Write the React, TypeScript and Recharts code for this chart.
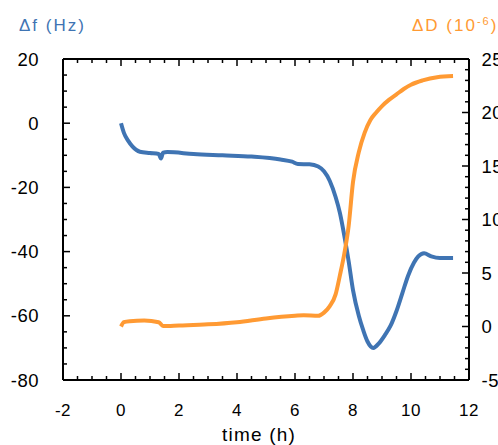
import React from 'react';
import { LineChart, Line, XAxis, YAxis } from 'recharts';

// Δf (Hz) series, left axis
const fTime = [0, 0.1, 0.25, 0.4, 0.65, 1.0, 1.3, 1.38, 1.45, 1.6, 2.5, 3.5, 4.5, 5.5, 5.9, 6.1, 6.5, 6.8, 7.0, 7.2, 7.4, 7.55, 7.7, 7.85, 8.0, 8.2, 8.35, 8.5, 8.7, 8.9, 9.1, 9.3, 9.5, 9.7, 9.9, 10.1, 10.25, 10.45, 10.7, 11.0, 11.45];
const fValues = [0, -3, -5.5, -7.3, -8.9, -9.3, -9.6, -11, -9.2, -9.0, -9.6, -10, -10.4, -11.3, -12, -12.7, -12.8, -13.5, -15, -18, -23, -28, -35, -43, -52, -60, -64.4, -68, -70, -68.5, -66, -63, -58.5, -53, -47.5, -43.5, -41.5, -40.5, -41.5, -42, -42];

// ΔD (1e-6) series, right axis
const dTime = [0, 0.1, 0.3, 0.8, 1.3, 1.45, 2.0, 3.0, 4.0, 5.0, 6.0, 6.3, 6.8, 7.0, 7.2, 7.4, 7.55, 7.7, 7.85, 8.0, 8.2, 8.4, 8.6, 8.8, 9.0, 9.25, 9.5, 9.75, 10.0, 10.4, 10.9, 11.45];
const dValues = [0, 0.4, 0.5, 0.55, 0.4, 0.05, 0.1, 0.2, 0.4, 0.75, 1.0, 1.05, 1.0, 1.3, 1.9, 3.0, 4.8, 6.8, 9.4, 13.5, 16.3, 18.1, 19.3, 20.0, 20.6, 21.2, 21.7, 22.2, 22.6, 23.0, 23.3, 23.4];

const xMajor = [-2, 0, 2, 4, 6, 8, 10, 12];
const fMajor = [20, 0, -20, -40, -60, -80];
const dMajor = [-5, 0, 5, 10, 15, 20, 25];

const range = (a: number, b: number, s: number) => {
  const out: number[] = [];
  for (let v = a; v <= b + 1e-9; v += s) out.push(Math.round(v * 100) / 100);
  return out;
};
const xTicks = range(-2, 12, 0.5);
const fTicks = range(-80, 20, 5);
const dTicks = range(-5, 25, 1);

const fData = fTime.map((t, i) => ({ t, f: fValues[i] }));
const dData = dTime.map((t, i) => ({ t, d: dValues[i] }));

const BLUE = '#3f74b3';
const ORANGE = '#ff9a33';
const FONT = '"Liberation Sans", Arial, sans-serif';

const BottomTick = (p: any) => {
  const v = p.payload.value;
  const major = xMajor.includes(v);
  return (
    <g>
      <line x1={p.x} y1={p.y} x2={p.x} y2={p.y - (major ? 7 : 4)} stroke="#000" strokeWidth={1.5} />
      {major && (
        <text x={p.x} y={p.y + 36} textAnchor="middle" fontFamily={FONT} fontSize={17} letterSpacing={0.5} fill="#000">
          {v}
        </text>
      )}
    </g>
  );
};

const TopTick = (p: any) => {
  const v = p.payload.value;
  const major = xMajor.includes(v);
  return <line x1={p.x} y1={p.y} x2={p.x} y2={p.y + (major ? 7 : 4)} stroke="#000" strokeWidth={1.5} />;
};

const LeftTick = (p: any) => {
  const v = p.payload.value;
  const major = fMajor.includes(v);
  return (
    <g>
      <line x1={p.x} y1={p.y} x2={p.x + (major ? 7 : 4)} y2={p.y} stroke="#000" strokeWidth={1.5} />
      {major && (
        <text x={p.x - 24} y={p.y + 6.5} textAnchor="end" fontFamily={FONT} fontSize={18.5} letterSpacing={0.5} fill="#000">
          {v}
        </text>
      )}
    </g>
  );
};

const RightTick = (p: any) => {
  const v = p.payload.value;
  const major = dMajor.includes(v);
  return (
    <g>
      <line x1={p.x} y1={p.y} x2={p.x - (major ? 7 : 4)} y2={p.y} stroke="#000" strokeWidth={1.5} />
      {major && (
        <text x={p.x + 12.5} y={p.y + 6.5} textAnchor="start" fontFamily={FONT} fontSize={18.5} letterSpacing={0.5} fill="#000">
          {v}
        </text>
      )}
    </g>
  );
};

const axisLine = { stroke: '#000', strokeWidth: 2 };

export default function App() {
  return (
    <div style={{ position: 'absolute', left: 0, top: 0, width: 498, height: 445, background: '#fff', overflow: 'hidden' }}>
      <LineChart width={498} height={445} margin={{ top: 29, right: 0, bottom: 0, left: 0 }}>
        <XAxis xAxisId="b" type="number" dataKey="t" orientation="bottom" domain={[-2, 12]} ticks={xTicks} interval={0}
          height={65} axisLine={axisLine} tickLine={false} tickSize={0} tickMargin={0} tick={<BottomTick />} allowDataOverflow />
        <XAxis xAxisId="t" type="number" dataKey="t" orientation="top" domain={[-2, 12]} ticks={xTicks} interval={0}
          height={30} axisLine={axisLine} tickLine={false} tickSize={0} tickMargin={0} tick={<TopTick />} allowDataOverflow />
        <YAxis yAxisId="f" type="number" orientation="left" domain={[-80, 20]} ticks={fTicks} interval={0}
          width={63} axisLine={axisLine} tickLine={false} tickSize={0} tickMargin={0} tick={<LeftTick />} allowDataOverflow />
        <YAxis yAxisId="d" type="number" orientation="right" domain={[-5, 25]} ticks={dTicks} interval={0}
          width={29} axisLine={axisLine} tickLine={false} tickSize={0} tickMargin={0} tick={<RightTick />} allowDataOverflow />
        <Line data={fData} xAxisId="b" yAxisId="f" dataKey="f" type="monotone" stroke={BLUE} strokeWidth={4}
          dot={false} isAnimationActive={false} />
        <Line data={dData} xAxisId="b" yAxisId="d" dataKey="d" type="monotone" stroke={ORANGE} strokeWidth={4}
          dot={false} isAnimationActive={false} />
      </LineChart>
      <svg width={498} height={445} style={{ position: 'absolute', left: 0, top: 0, pointerEvents: 'none' }}>
        <text x={19} y={31} fontFamily={FONT} fontSize={17} letterSpacing={2} fill={BLUE}>Δf (Hz)</text>
        <text x={412} y={31} fontFamily={FONT} fontSize={17} letterSpacing={2} fill={ORANGE}>
          ΔD (10<tspan fontSize={11} dy={-6}>-6</tspan><tspan dy={6}>)</tspan>
        </text>
        <text x={259} y={441} textAnchor="middle" fontFamily={FONT} fontSize={19} letterSpacing={1.2} fill="#000">time (h)</text>
      </svg>
    </div>
  );
}
